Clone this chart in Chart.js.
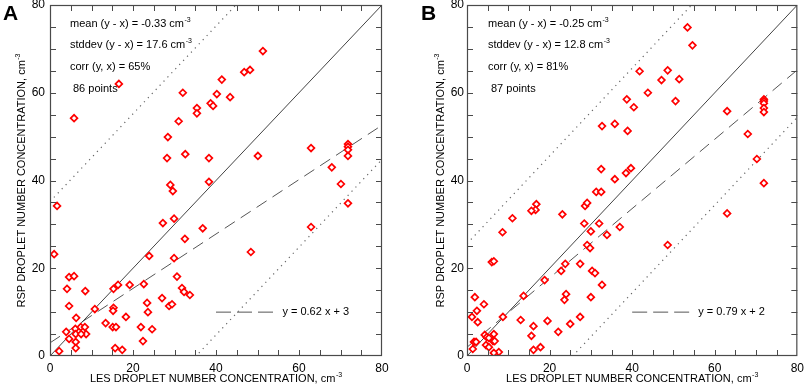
<!DOCTYPE html>
<html lang="en">
<head>
    <meta charset="UTF-8">
    <title>LES vs RSP Droplet Number Concentration</title>
    <script src="https://cdn.jsdelivr.net/npm/chart.js"></script>
    <style>
        body {
            margin: 0;
            background-color: #ffffff;
            width: 809px;
            height: 387px;
            overflow: hidden;
            position: relative;
        }
        .panel {
            position: absolute;
            top: -10px;
            width: 404px;
            height: 397px;
        }
        #panelA { left: 0; }
        #panelB { left: 405px; }
    </style>
</head>
<body>
    <div class="panel" id="panelA"><canvas id="chartA" width="404" height="397"></canvas></div>
    <div class="panel" id="panelB"><canvas id="chartB" width="404" height="397"></canvas></div>

    <script>
        // ---- data ----
        var tickValues = [0, 20, 40, 60, 80];

        // Panel A: LES (x) vs RSP (y)
        var lesA = [16.6, 5.8, 32, 35.4, 35.4, 31, 28.4, 28.2, 32.6, 29, 29.6, 51.3, 46.8, 48.2, 41.4, 40.2, 43.4, 38.7, 39.3, 38.3, 50.1, 62.9, 71.8, 71.8, 71.8, 71.8, 67.9, 38.3, 70.1, 36.8, 48.4, 62.9, 71.8,
                    27.2, 29.9, 32.5, 23.9, 29.9, 19.2, 22.6, 30.6, 31.8, 32.3, 33.7, 27, 23.4, 23.6, 28.7, 29.4, 18.3, 21.9, 24.6, 22.4, 17.4,
                    1.7, 1, 2.2, 4.6, 5.8, 4.1, 8.5, 4.6, 6.3, 3.9, 4.6, 6.1, 6.2, 6.2, 6.2, 7.4, 8.4, 8.7, 7.5, 10.8, 13.4, 15.3, 16.4, 15.3, 15.2, 15.1, 15.9, 15.7];
        var rspA = [62, 54.2, 60, 56.5, 55.3, 53.5, 49.9, 45.1, 46, 39, 37.6, 69.5, 64.7, 65.2, 63, 59.7, 59, 57.6, 57, 45.1, 45.6, 47.4, 48.3, 47.7, 47, 45.6, 43, 39.7, 39.2, 29.1, 23.7, 29.4, 34.8,
                    30.3, 31.3, 26.7, 22.8, 22.3, 16.2, 16.4, 18.1, 15.5, 14.6, 13.9, 13.2, 12.1, 10, 11.4, 11.8, 8.9, 6.6, 6.1, 3.4, 1.4,
                    34.2, 23.2, 1.1, 18, 18.2, 15.3, 14.8, 11.4, 8.7, 5.5, 3.9, 6.2, 5, 3.2, 1.8, 6.6, 6.6, 5, 5, 10.7, 7.5, 15.3, 16.2, 11, 10.3, 6.6, 6.6, 1.8];

        // Panel B
        var lesB = [32.7, 32.5, 31.3, 32.5, 53.4, 54.6, 41.8, 48.6, 47.1, 51.4, 43.8, 38.7, 40.4, 50.5, 63, 71.9, 71.9, 71.9, 71.9, 71.9, 35.8, 38.9, 68, 70.2, 71.9, 35.8, 38.5, 39.7,
                    28.6, 29.1, 16.8, 16.6, 15.6, 23.1, 11, 8.6, 28.4, 32, 30, 37, 33.9, 29.1, 29.8, 48.6, 6, 6.5, 23.8, 27.4, 22.8, 30.3, 31, 18.8, 32.7, 13.7, 24, 23.6, 30,
                    1.9, 2.4, 4.1, 1.2, 8.7, 2.6, 13, 19.5, 27.4, 25, 16.1, 15.6, 22.1, 17.8, 16.1, 7.7, 6.5, 4.3, 4.8, 5.3, 6.5, 6.3, 6.7, 4.6, 5.3, 1.7, 2.2, 1.4, 63];
        var rspB = [52.4, 42.6, 37.4, 37.4, 74.9, 70.8, 64.9, 65.1, 62.9, 63.1, 60, 58.5, 56.7, 58.1, 55.8, 58.5, 58.1, 57.6, 56.5, 55.6, 52.9, 51.3, 50.6, 44.9, 39.4, 40.3, 41.7, 42.8,
                    34.2, 34.9, 34.6, 33.3, 33.1, 32.3, 31.4, 28.2, 30.2, 30.2, 28.4, 29.4, 27.6, 25.3, 24.6, 25.3, 21.4, 21.6, 21, 21, 19.4, 19.4, 18.9, 17.3, 16.2, 13.7, 14.1, 12.8, 13.4,
                    13.4, 10.3, 11.8, 8.9, 8.9, 7.7, 8.2, 8, 8.9, 7.3, 6.8, 4.6, 5.5, 2, 1.4, 0.9, 0.7, 4.8, 4.3, 4.1, 5, 3.4, 3.4, 2.5, 2, 3.2, 3.2, 1.6, 32.5];

        // reference lines (endpoints at x = 0 and x = 80)
        var lineX = [0, 80];
        var oneToOne = [0, 80];
        var fitA = [3, 52.6];          // y = 0.62 x + 3
        var upperA = [35.2, 115.2];    // y = x + 2 stddev
        var lowerA = [-35.2, 44.8];    // y = x - 2 stddev
        var fitB = [2, 65.2];          // y = 0.79 x + 2
        var upperB = [25.6, 105.6];
        var lowerB = [-25.6, 54.4];
        var keyX = [40, 55];           // dashed key sample in lower right
        var keyY = [10, 10];

        var statsA = ['mean (y - x) = -0.33 cm', 'stddev (y - x) = 17.6 cm', 'corr (y, x) = 65%', '86 points'];
        var statsB = ['mean (y - x) = -0.25 cm', 'stddev (y - x) = 12.8 cm', 'corr (y, x) = 81%', '87 points'];
        var fitLabelA = 'y = 0.62 x + 3';
        var fitLabelB = 'y = 0.79 x + 2';

        var FONT = '"Liberation Sans", Arial, Helvetica, sans-serif';
        var AXIS = '#4a4a4a';

        function pairs(xs, ys) {
            return xs.map(function(v, i) { return {x: v, y: ys[i]}; });
        }

        function textSup(ctx, x, y, main, sup, size) {
            ctx.font = size + 'px ' + FONT;
            ctx.fillText(main, x, y);
            if (!sup) return;
            var w = ctx.measureText(main).width;
            ctx.font = Math.round(size * 0.65) + 'px ' + FONT;
            ctx.fillText(sup, x + w + 0.5, y - size * 0.38);
        }

        function widthSup(ctx, main, sup, size) {
            ctx.font = size + 'px ' + FONT;
            var w = ctx.measureText(main).width;
            ctx.font = Math.round(size * 0.65) + 'px ' + FONT;
            return w + 0.5 + ctx.measureText(sup).width;
        }

        // frame, inward ticks and all the annotation text
        var panelDecor = {
            id: 'panelDecor',
            afterDraw: function(chart, args, opts) {
                var ctx = chart.ctx, a = chart.chartArea;
                var xs = chart.scales.x, ys = chart.scales.y;
                ctx.save();
                ctx.strokeStyle = AXIS;
                ctx.lineWidth = 1.2;
                ctx.strokeRect(a.left + 0.5, a.top + 0.5, a.right - a.left - 1, a.bottom - a.top - 1);
                ctx.lineWidth = 1;
                ctx.beginPath();
                for (var v = 5; v < 80; v += 5) {
                    var px = Math.round(xs.getPixelForValue(v)) + 0.5;
                    var py = Math.round(ys.getPixelForValue(v)) + 0.5;
                    ctx.moveTo(px, a.bottom); ctx.lineTo(px, a.bottom - 6);
                    ctx.moveTo(px, a.top); ctx.lineTo(px, a.top + 6);
                    ctx.moveTo(a.left, py); ctx.lineTo(a.left + 6, py);
                    ctx.moveTo(a.right, py); ctx.lineTo(a.right - 6, py);
                }
                ctx.stroke();

                ctx.fillStyle = '#000000';
                ctx.textBaseline = 'middle';
                ctx.textAlign = 'left';

                // statistics block
                var rows = [19, 40, 62, 84];
                opts.stats.forEach(function(s, i) {
                    var dx = i === 3 ? opts.statsX + 3 : opts.statsX;
                    textSup(ctx, a.left + dx, a.top + rows[i], s, i < 2 ? '-3' : '', 11);
                });

                // fit key label
                textSup(ctx, xs.getPixelForValue(56), ys.getPixelForValue(10), opts.fitLabel, '', 11);

                // x axis title
                var xt = 'LES DROPLET NUMBER CONCENTRATION, cm';
                var w = widthSup(ctx, xt, '-3', 11);
                textSup(ctx, (a.left + a.right) / 2 - w / 2, a.bottom + 23, xt, '-3', 11);

                // y axis title
                var yt = 'RSP DROPLET NUMBER CONCENTRATION, cm';
                w = widthSup(ctx, yt, '-3', 11);
                ctx.save();
                ctx.translate(a.left - opts.yTitleGap, (a.top + a.bottom) / 2);
                ctx.rotate(-Math.PI / 2);
                textSup(ctx, -w / 2, 0, yt, '-3', 11);
                ctx.restore();

                // panel letter
                ctx.font = 'bold 21px ' + FONT;
                ctx.fillText(opts.letter, opts.letterX, 24);
                ctx.restore();
            }
        };

        function makePanel(canvasId, les, rsp, fit, upper, lower, stats, fitLabel, letter, layout) {
            var ctx = document.getElementById(canvasId).getContext('2d');
            return new Chart(ctx, {
                type: 'scatter',
                data: {
                    datasets: [{
                        data: pairs(les, rsp),
                        pointStyle: 'rectRot',
                        pointRadius: 3.4,
                        pointBorderWidth: 1.7,
                        borderColor: '#ff0000',
                        backgroundColor: '#ffffff'
                    }, {
                        data: pairs(lineX, oneToOne),
                        showLine: true, pointRadius: 0,
                        borderColor: '#444444', borderWidth: 1
                    }, {
                        data: pairs(lineX, fit),
                        showLine: true, pointRadius: 0,
                        borderColor: '#555555', borderWidth: 1, borderDash: [12, 7]
                    }, {
                        data: pairs(lineX, upper),
                        showLine: true, pointRadius: 0,
                        borderColor: '#666666', borderWidth: 1.2, borderDash: [1.2, 4.5]
                    }, {
                        data: pairs(lineX, lower),
                        showLine: true, pointRadius: 0,
                        borderColor: '#666666', borderWidth: 1.2, borderDash: [1.2, 4.5]
                    }, {
                        data: pairs(keyX, keyY),
                        showLine: true, pointRadius: 0,
                        borderColor: '#555555', borderWidth: 1, borderDash: [15, 6]
                    }]
                },
                options: {
                    responsive: false,
                    animation: false,
                    devicePixelRatio: 1,
                    layout: {
                        padding: {left: 0, right: layout.right, top: 15, bottom: 0}
                    },
                    plugins: {
                        legend: {display: false},
                        tooltip: {enabled: false},
                        panelDecor: {
                            stats: stats,
                            fitLabel: fitLabel,
                            letter: letter,
                            letterX: layout.letterX,
                            statsX: layout.statsX,
                            yTitleGap: layout.yTitleGap
                        }
                    },
                    scales: {
                        x: {
                            type: 'linear', min: 0, max: 80,
                            afterBuildTicks: function(s) { s.ticks = tickValues.map(function(v) { return {value: v}; }); },
                            afterFit: function(s) { s.height = 31; },
                            grid: {display: false, drawTicks: false},
                            border: {display: false},
                            ticks: {color: '#000000', padding: 5, font: {size: 12, family: FONT}}
                        },
                        y: {
                            type: 'linear', min: 0, max: 80,
                            afterBuildTicks: function(s) { s.ticks = tickValues.map(function(v) { return {value: v}; }); },
                            afterFit: function(s) { s.width = layout.left; },
                            grid: {display: false, drawTicks: false},
                            border: {display: false},
                            ticks: {color: '#000000', padding: layout.tickPad, font: {size: 12, family: FONT}}
                        }
                    }
                },
                plugins: [panelDecor]
            });
        }

        makePanel('chartA', lesA, rspA, fitA, upperA, lowerA, statsA, fitLabelA, 'A',
            {left: 50, right: 22, letterX: 3, statsX: 20, yTitleGap: 28, tickPad: 5});
        makePanel('chartB', lesB, rspB, fitB, upperB, lowerB, statsB, fitLabelB, 'B',
            {left: 62, right: 9, letterX: 16, statsX: 21, yTitleGap: 26, tickPad: 3});
    </script>
</body>
</html>
